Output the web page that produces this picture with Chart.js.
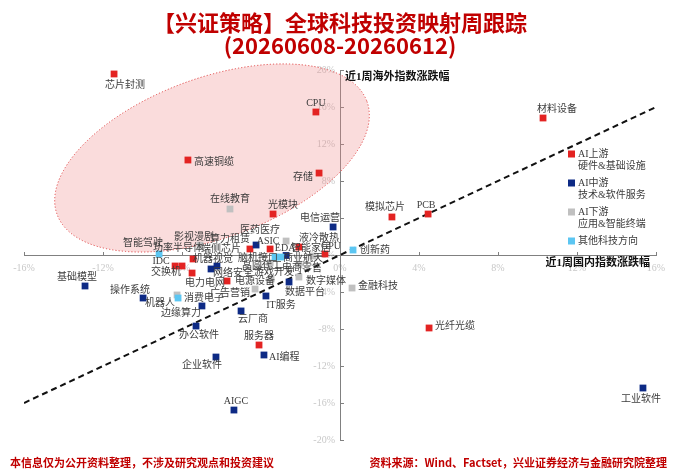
<!DOCTYPE html>
<html>
<head>
<meta charset="utf-8">
<script src="https://cdn.jsdelivr.net/npm/chart.js@4.4.1/dist/chart.umd.min.js"></script>
<style>
  body { margin: 0; background: #fff; }
  #wrap { position: relative; width: 680px; height: 471px; overflow: hidden; }
  #chart { position: absolute; left: 0; top: 0; }
  .title { position: absolute; left: 0; width: 680px; text-align: center; color: #c00000;
           font-family: "Noto Sans CJK SC", sans-serif; font-weight: 700; font-size: 22px; line-height: 26px; }
  .foot { position: absolute; top: 454px; color: #c00000; font-family: "Noto Sans CJK SC", serif;
          font-weight: 700; font-size: 11px; line-height: 16px; white-space: nowrap; }
</style>
</head>
<body>
<div id="wrap">
  <canvas id="chart" width="680" height="471"></canvas>
  <div class="title" style="top:8px">【兴证策略】全球科技投资映射周跟踪</div>
  <div class="title" style="top:31px">(20260608-20260612)</div>
  <div class="foot" style="left:10px">本信息仅为公开资料整理，不涉及研究观点和投资建议</div>
  <div class="foot" style="right:13px">资料来源：Wind、Factset，兴业证券经济与金融研究院整理</div>
</div>
<script>
// x: 近1周国内指数涨跌幅 (%), y: 近1周海外指数涨跌幅 (%)
const upNames = ['芯片封测', 'CPU', '高速铜缆', '存储', '光模块', '模拟芯片', 'PCB', '材料设备', '光纤光缆', '服务器',
  '功率半导体', '交换机', 'IDC', '电力电网', '电源设备', '端侧芯片', 'ASIC', '液冷散热', 'GPU']
const upX = [-11.44, -1.22, -7.70, -1.06, -3.39, 2.63, 4.46, 10.28, 4.51, -4.10,
  -7.44, -8.35, -8.00, -7.49, -5.72, -4.56, -3.54, -2.08, -0.76]
const upY = [19.57, 15.46, 10.27, 8.86, 4.43, 4.11, 4.43, 14.81, -7.89, -9.73,
  -0.43, -1.19, -1.19, -1.95, -2.81, 0.65, 0.65, 0.86, 0.11]

const midNames = ['电信运营', '基础模型', '操作系统', '边缘算力', '办公软件', '企业软件', 'AIGC', 'AI编程', '云厂商', 'IT服务',
  '数据平台', '网络安全', '机器视觉', '算力租赁', 'EDA', '工业软件']
const midX = [-0.35, -12.91, -9.97, -6.99, -7.29, -6.28, -5.37, -3.85, -5.01, -3.75,
  -2.58, -6.53, -6.23, -4.25, -2.73, 15.34]
const midY = [3.03, -3.35, -4.65, -5.51, -7.68, -11.03, -16.76, -10.81, -6.05, -4.43,
  -2.92, -1.51, -1.19, 1.08, -0.05, -14.38]

const downNames = ['在线教育', '金融科技', '数字媒体', '广告营销', '游戏开发', '消费电子', '影视漫剧', '医药医疗', '电商零售', '晶圆代工', '智能家居']
const downX = [-5.57, 0.61, -2.08, -4.30, -3.49, -8.25, -7.09, -2.73, -2.08, -3.54, -1.37]
const downY = [4.97, -3.57, -2.38, -3.68, -2.59, -4.32, 1.08, 1.51, -1.08, -0.86, -0.11]

const otherNames = ['创新药', '智能驾驶', '机器人', '脑机接口', '商业航天']
const otherX = [0.66, -9.16, -8.20, -3.29, -2.99]
const otherY = [0.54, 0.11, -4.65, -0.22, -0.22]

const xRange = [-16, 16]
const yRange = [-20, 20]

// label placement next to each marker: [dx, dy, align]
const labelPos = {
  '芯片封测': [11, 11, 'c'], 'CPU': [0, -9, 'c'], '高速铜缆': [6, 2, 'l'], '存储': [-6, 4, 'r'],
  '光模块': [10, -9, 'c'], '在线教育': [0, -10, 'c'], '电信运营': [-13, -9, 'c'], '模拟芯片': [-7, -10, 'c'],
  'PCB': [-2, -9, 'c'], '材料设备': [14, -9, 'c'], '创新药': [7, 0, 'l'], '光纤光缆': [6, -2, 'l'],
  '金融科技': [6, -2, 'l'], '工业软件': [-2, 11, 'c'], 'AIGC': [2, -9, 'c'], '企业软件': [-14, 8, 'c'],
  'AI编程': [5, 2, 'l'], '服务器': [0, -9, 'c'], '办公软件': [3, 9, 'c'], '云厂商': [12, 8, 'c'],
  'IT服务': [15, 9, 'c'], '边缘算力': [-21, 7, 'c'], '机器人': [-18, 5, 'c'], '消费电子': [7, 3, 'l'],
  '操作系统': [-13, -8, 'c'], '基础模型': [-8, -9, 'c'], '数据平台': [16, 10, 'c'], '数字媒体': [7, 4, 'l'],
  '广告营销': [-5, 4, 'r'], '电源设备': [8, 0, 'l'], '电力电网': [13, 10, 'c'], '网络安全': [22, 4, 'c'],
  '机器视觉': [-4, -7, 'c'], '功率半导体': [-15, -11, 'c'], '智能驾驶': [-16, -11, 'c'], 'IDC': [-21, -5, 'c'],
  '交换机': [-9, 6, 'c'], '影视漫剧': [-6, -8, 'c'], '端侧芯片': [-9, 0, 'r'], '算力租赁': [-26, -6, 'c'],
  'ASIC': [-2, -8, 'c'], '医药医疗': [-26, -11, 'c'], 'EDA': [-1, -7, 'c'], '液冷散热': [20, -9, 'c'],
  '智能家居': [-2, -8, 'c'], 'GPU': [6, -8, 'c'], '脑机接口': [-17, 1, 'c'], '商业航天': [22, 1, 'c'],
  '晶圆代工': [-8, 3, 'c'], '电商零售': [3, 3, 'c'], '游戏开发': [3, -7, 'c']
}

const legendItems = [
  ['#e32322', 'AI上游', '硬件&基础设施'],
  ['#0d2a85', 'AI中游', '技术&软件服务'],
  ['#c0c0c0', 'AI下游', '应用&智能终端'],
  ['#5cc6f2', '其他科技方向', '']
]

// highlighted region, in axis units
const ellipse = { cx: -6.48, cy: 10.49, rx: 8.35, ry: 8.65, rot: -0.35 }

const pts = (names, xs, ys) => names.map((n, i) => ({ x: xs[i], y: ys[i], name: n }))
const labelFont = '10px "Liberation Serif", "Noto Sans CJK SC"'

const ellipsePlugin = {
  id: 'ellipse',
  beforeDatasetsDraw(chart) {
    const { ctx, scales: { x, y } } = chart
    const cx = x.getPixelForValue(ellipse.cx)
    const cy = y.getPixelForValue(ellipse.cy)
    const rx = x.getPixelForValue(ellipse.rx) - x.getPixelForValue(0)
    const ry = y.getPixelForValue(0) - y.getPixelForValue(ellipse.ry)
    ctx.save()
    ctx.beginPath()
    ctx.ellipse(cx, cy, rx, ry, ellipse.rot, 0, Math.PI * 2)
    ctx.fillStyle = 'rgba(240,140,140,0.3)'
    ctx.fill()
    ctx.setLineDash([1.2, 2])
    ctx.lineWidth = 1
    ctx.strokeStyle = '#e04848'
    ctx.stroke()
    ctx.restore()
  }
}

const labelsPlugin = {
  id: 'pointLabels',
  afterDatasetsDraw(chart) {
    const ctx = chart.ctx
    ctx.save()
    ctx.font = labelFont
    ctx.fillStyle = '#3c3c3c'
    ctx.textBaseline = 'middle'
    chart.data.datasets.forEach((ds, i) => {
      if (ds.type === 'line') return
      chart.getDatasetMeta(i).data.forEach((el, j) => {
        const name = ds.data[j].name
        const [dx, dy, al] = labelPos[name] || [6, 0, 'l']
        ctx.textAlign = al === 'l' ? 'left' : al === 'r' ? 'right' : 'center'
        ctx.fillText(name, el.x + dx, el.y + dy)
      })
    })
    ctx.restore()
  },
  afterDraw(chart) {
    const { ctx, chartArea, scales: { x, y } } = chart
    ctx.save()
    // axis titles
    ctx.font = 'bold 11px "Liberation Serif", "Noto Sans CJK SC"'
    ctx.fillStyle = '#111'
    ctx.textBaseline = 'middle'
    ctx.textAlign = 'left'
    ctx.fillText('近1周海外指数涨跌幅', x.getPixelForValue(0) + 5, chartArea.top + 7)
    ctx.textAlign = 'right'
    ctx.fillText('近1周国内指数涨跌幅', chartArea.right - 6, y.getPixelForValue(0) + 8)
    // legend
    ctx.font = labelFont
    ctx.textAlign = 'left'
    let ly = chartArea.top + 84
    legendItems.forEach(([color, l1, l2]) => {
      ctx.fillStyle = color
      ctx.fillRect(568, ly - 3.5, 7, 7)
      ctx.fillStyle = '#3c3c3c'
      ctx.fillText(l1, 578, ly)
      if (l2) ctx.fillText(l2, 578, ly + 12)
      ly += 29
    })
    ctx.restore()
  }
}

const pointStyle = color => ({
  type: 'scatter', backgroundColor: color, borderColor: color, borderWidth: 0,
  pointStyle: 'rect', pointRadius: 4.8, pointHoverRadius: 4.8, clip: false
})

new Chart(document.getElementById('chart'), {
  data: {
    datasets: [
      { ...pointStyle('#5cc6f2'), data: pts(otherNames, otherX, otherY), order: 1 },
      { ...pointStyle('#c0c0c0'), data: pts(downNames, downX, downY), order: 2 },
      { ...pointStyle('#0d2a85'), data: pts(midNames, midX, midY), order: 3 },
      { ...pointStyle('#e32322'), data: pts(upNames, upX, upY), order: 4 },
      {
        type: 'line', data: xRange.map(v => ({ x: v, y: v })), borderColor: '#111', borderWidth: 2,
        borderDash: [6, 4], pointRadius: 0, fill: false, order: 5
      }
    ]
  },
  options: {
    responsive: false,
    animation: false,
    layout: { padding: { left: 24, right: 24, top: 70, bottom: 31 } },
    plugins: { legend: { display: false }, tooltip: { enabled: false } },
    scales: {
      x: {
        type: 'linear', min: xRange[0], max: xRange[1], position: { y: 0 },
        afterFit: s => { s.height = 0 },
        ticks: {
          stepSize: 4, autoSkip: false, padding: 11, color: '#c8c8c8',
          font: { family: '"Liberation Serif"', size: 10 }, callback: v => v + '%'
        },
        grid: { drawOnChartArea: false, tickLength: -4, color: '#808080' },
        border: { color: '#808080' }
      },
      y: {
        type: 'linear', min: yRange[0], max: yRange[1], position: { x: 0 },
        afterFit: s => { s.width = 0 },
        ticks: {
          stepSize: 4, autoSkip: false, color: '#c8c8c8',
          font: { family: '"Liberation Serif"', size: 10 }, callback: v => v + '%  '
        },
        grid: { drawOnChartArea: false, tickLength: -4, color: '#808080' },
        border: { color: '#808080' }
      }
    }
  },
  plugins: [ellipsePlugin, labelsPlugin]
})
</script>
</body>
</html>
